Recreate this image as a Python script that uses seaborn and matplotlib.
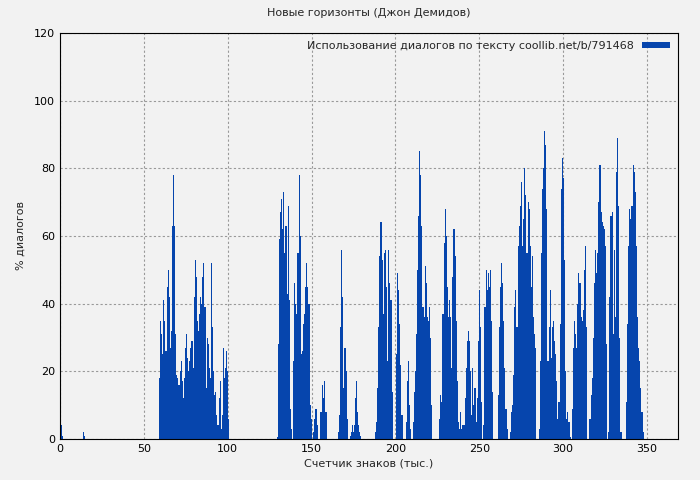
import numpy as np
import pandas as pd
import matplotlib
matplotlib.use("Agg")
import matplotlib.pyplot as plt
import seaborn as sns

seg_a_range, seg_a = (0.3, 1.5), [4, 1]
seg_a2_range, seg_a2 = (14.0, 15.2), [2, 1]
seg_b_range = (59.0, 101.0)
seg_b = [18,35,31,25,41,35,26,45,50,42,27,32,63,78,63,31,19,18,16,20,23,17,12,18,27,31,24,20,23,27,
         29,21,42,53,48,35,32,37,42,40,48,52,39,15,30,28,21,18,52,33,20,13,14,7,4,12,17,3,7,27,18,21,26,20,6]
seg_c_range = (129.2, 150.1)
seg_c = [0.5,28,59,67,71,62,73,55,63,43,69,41,9,3,0,23,46,40,37,55,78,60,25,26,34,37,45,52,45,40,10,6]
seg_d_range = (150.7, 159.0)
seg_d = [2,6,9,4,0,0,8,16,12,17,8]
seg_e_range = (165.9, 179.2)
seg_e = [2,7,33,56,42,15,27,27,20,6,0,0,1,2,4,2,4,12,17,8,4,2,1]
seg_f_range = (187.8, 348.0)
seg_f = [2,5,15,33,54,64,53,37,55,56,45,23,56,46,41,14,0,0,0,25,49,44,34,22,7,0,0,0,5,17,23,10,3,0,
         5,14,20,31,50,66,85,78,63,39,36,51,46,36,35,39,30,10,0,0,0,0,0,0,
         6,13,11,37,58,68,60,45,36,41,36,21,48,62,54,35,17,5,3,8,3,4,4,12,21,29,32,29,20,7,21,10,15,5,12,29,44,33,11,0,
         4,39,50,44,49,45,50,35,14,0,0,0,0,13,33,45,52,46,35,21,9,3,0,0,
         2,8,10,19,39,44,33,57,63,69,76,57,65,80,72,55,70,68,57,45,54,36,31,27,0,0,
         3,23,55,74,80,91,87,68,23,33,44,24,33,35,29,25,17,6,11,34,74,83,77,53,20,6,8,5,0.5,0,
         9,27,35,31,27,40,49,46,36,35,38,50,57,33,0,0,
         6,13,18,30,46,56,49,55,70,81,67,64,63,62,57,28,0,
         2,42,66,67,31,56,36,79,89,69,30,2,0,0,0,0,
         11,34,57,68,65,69,81,79,73,57,36,27,23,15,8,2]

segments = [(seg_a_range, seg_a), (seg_a2_range, seg_a2), (seg_b_range, seg_b), (seg_c_range, seg_c),
            (seg_d_range, seg_d), (seg_e_range, seg_e), (seg_f_range, seg_f)]
xs, ys, ws = [], [], []
for (s, e), vals in segments:
    step = (e - s) / len(vals)
    for i, v in enumerate(vals):
        xs.append(s + i * step)
        ys.append(v)
        ws.append(step)
df = pd.DataFrame({"x": xs, "y": ys, "w": ws})

sns.set_theme(style="white")
plt.rcParams['font.family'] = ['DejaVu Sans']
bg = "#f2f2f2"
fig = plt.figure(figsize=(7, 4.8), dpi=100, facecolor=bg)
ax = fig.add_axes([60/700, 41/480, 618/700, 406/480], facecolor=bg)
ax.bar(df["x"], df["y"], width=df["w"], color="#0645ad", linewidth=0, align="edge",
       label="Использование диалогов по тексту coollib.net/b/791468")
ax.set_xlim(0, 368.5)
ax.set_ylim(0, 120)
ax.set_xticks(range(0, 351, 50))
ax.set_yticks(range(0, 121, 20))
ax.grid(True, color="#999999", linestyle=(0, (2, 2)), linewidth=0.8)
ax.set_axisbelow(True)
for sp in ax.spines.values():
    sp.set_color("black"); sp.set_linewidth(0.8)
ax.tick_params(direction="in", length=4, labelsize=8, colors="black")
ax.set_xlabel("Счетчик знаков (тыс.)", fontsize=8, labelpad=3)
ax.set_ylabel("% диалогов", fontsize=8, labelpad=6)
ax.set_title("Новые горизонты (Джон Демидов)", fontsize=8, pad=12)
ax.legend(loc="upper right", frameon=False, markerfirst=False, fontsize=8,
          handlelength=2.5, handleheight=0.4, borderaxespad=0.3)
fig.savefig("out.png", dpi=100, facecolor=bg)
